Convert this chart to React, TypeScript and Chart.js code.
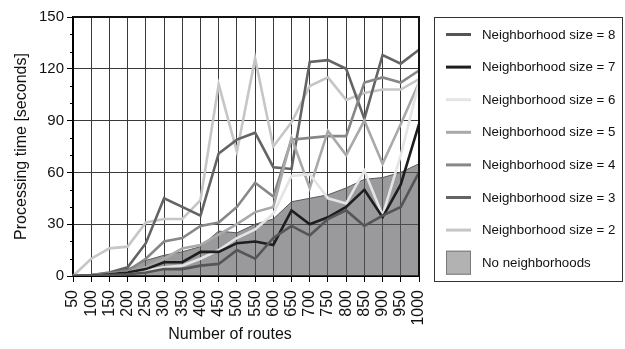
import React, { useEffect, useRef } from "react";
import { Chart, registerables } from "chart.js";

Chart.register(...registerables);

// Number of routes (x categories)
const routeCounts = [
  "50", "100", "150", "200", "250", "300", "350", "400", "450", "500",
  "550", "600", "650", "700", "750", "800", "850", "900", "950", "1000",
];

// Processing time in seconds per neighborhood size
const size8 = [0, 0.2, 0.5, 1, 2, 4, 4, 6, 7, 15, 10, 22, 29, 23.5, 33, 38, 29, 35, 40, 60];
const size7 = [0, 0.3, 1, 2, 4, 8, 8, 14, 14, 19, 20, 18, 38, 30, 34, 40, 50, 34, 53, 88];
const size6 = [0, 0.3, 1, 2, 3, 5, 6, 10, 15, 22, 27, 36, 58, 59, 45, 42, 61, 35, 70, 112];
const size5 = [0, 0.3, 1, 2, 5, 10, 16, 18, 24, 30, 37, 40, 80, 51, 84, 70, 90, 65, 88, 112];
const size4 = [0, 0.5, 1.5, 3, 10, 20, 22, 29, 31, 40, 54, 46, 79, 80, 81, 81, 112, 115, 112, 119];
const size3 = [0, 0.5, 2, 5, 19, 45, 40, 35, 71, 79, 83, 63, 62, 124, 125, 120, 91, 128, 123, 131];
const size2 = [0, 10, 16, 17, 31, 33, 33, 44, 111, 72, 126, 75, 89, 110, 115, 102, 106, 108, 108, 114];
const noNeighborhoods = [0, 0.5, 1.5, 4, 9, 12, 14, 17, 26, 25, 30, 33, 43, 45, 47, 51, 56, 57, 60, 65];

// y axis: labelled every 30 s, small ticks every 10 s
const yMax = 150;
const yMajorStep = 30;
const yMinorStep = 10;

const FONT = "'Liberation Sans', Arial, Helvetica, sans-serif";

const lineSeries = [
  { label: "Neighborhood size = 8", data: size8, color: "#555555" },
  { label: "Neighborhood size = 7", data: size7, color: "#1e1e1e" },
  { label: "Neighborhood size = 6", data: size6, color: "#e4e4e4" },
  { label: "Neighborhood size = 5", data: size5, color: "#a9a9a9" },
  { label: "Neighborhood size = 4", data: size4, color: "#878787" },
  { label: "Neighborhood size = 3", data: size3, color: "#646464" },
  { label: "Neighborhood size = 2", data: size2, color: "#c6c6c6" },
];

const frameAndLegend = {
  id: "frameAndLegend",
  afterDraw(chart: any) {
    const { ctx, chartArea } = chart;
    const { left, right, top, bottom } = chartArea;
    const yScale = chart.scales.y;
    ctx.save();

    // minor ticks on the y axis
    ctx.strokeStyle = "#000";
    ctx.lineWidth = 1;
    for (let v = yMinorStep; v < yMax; v += yMinorStep) {
      if (v % yMajorStep === 0) continue;
      const py = Math.round(yScale.getPixelForValue(v)) + 0.5;
      ctx.beginPath();
      ctx.moveTo(left - 3, py);
      ctx.lineTo(left, py);
      ctx.stroke();
    }

    // top and right frame
    ctx.lineWidth = 2;
    ctx.strokeStyle = "#111";
    ctx.beginPath();
    ctx.moveTo(left, top);
    ctx.lineTo(right, top);
    ctx.lineTo(right, bottom);
    ctx.stroke();

    // axis titles
    ctx.fillStyle = "#111";
    ctx.font = `16px ${FONT}`;
    ctx.textAlign = "center";
    ctx.textBaseline = "middle";
    ctx.fillText("Number of routes", 230, 335);
    ctx.save();
    ctx.translate(22, (top + bottom) / 2);
    ctx.rotate(-Math.PI / 2);
    ctx.fillText("Processing time [seconds]", 0, 0);
    ctx.restore();

    // legend box
    const bx = 434.5;
    const by = 17.5;
    const bw = 188;
    const bh = 264;
    ctx.lineWidth = 1;
    ctx.strokeStyle = "#333";
    ctx.strokeRect(bx, by, bw, bh);

    ctx.font = `13.3px ${FONT}`;
    ctx.textAlign = "left";
    ctx.textBaseline = "middle";
    const rowH = 32.6;
    chart.data.datasets.forEach((ds: any, i: number) => {
      const cy = 34.5 + i * rowH;
      if (ds.fill) {
        ctx.fillStyle = "#b2b2b2";
        ctx.fillRect(446, cy - 12, 25, 24);
        ctx.strokeStyle = "#7a7a7a";
        ctx.lineWidth = 1;
        ctx.strokeRect(446.5, cy - 11.5, 24, 23);
      } else {
        ctx.strokeStyle = ds.borderColor;
        ctx.lineWidth = 3;
        ctx.beginPath();
        ctx.moveTo(446, cy);
        ctx.lineTo(471, cy);
        ctx.stroke();
      }
      ctx.fillStyle = "#111";
      ctx.fillText(ds.label, 482, cy + 0.5);
    });

    ctx.restore();
  },
};

export default function App() {
  const canvasRef = useRef<HTMLCanvasElement | null>(null);

  useEffect(() => {
    const canvas = canvasRef.current;
    if (!canvas) return;

    const datasets: any[] = lineSeries.map((s, i) => ({
      label: s.label,
      data: s.data,
      borderColor: s.color,
      backgroundColor: s.color,
      borderWidth: 2.6,
      pointRadius: 0,
      tension: 0,
      fill: false,
      order: i,
    }));
    datasets.push({
      label: "No neighborhoods",
      data: noNeighborhoods,
      borderColor: "#5a5a5e",
      backgroundColor: "rgba(86, 86, 92, 0.6)",
      borderWidth: 1,
      pointRadius: 0,
      tension: 0,
      fill: "origin",
      order: 20,
    });

    const chart = new Chart(canvas, {
      type: "line",
      data: { labels: routeCounts, datasets },
      options: {
        responsive: false,
        animation: false,
        devicePixelRatio: 1,
        layout: { padding: { left: 0, right: 206, top: 17, bottom: 0 } },
        plugins: {
          legend: { display: false },
          tooltip: { enabled: false },
        },
        scales: {
          x: {
            type: "category",
            offset: false,
            afterFit: (scale: any) => {
              scale.height = 73;
            },
            grid: {
              color: "#3a3a3a",
              lineWidth: 1,
              tickLength: 6,
              tickColor: "#000",
            },
            border: { color: "#000", width: 2 },
            ticks: {
              autoSkip: false,
              maxRotation: 90,
              minRotation: 90,
              padding: 8,
              color: "#111",
              font: { family: FONT, size: 16 },
            },
          },
          y: {
            type: "linear",
            min: 0,
            max: yMax,
            afterFit: (scale: any) => {
              scale.width = 73;
            },
            grid: {
              color: (c: any) =>
                c.tick && c.tick.value % yMajorStep === 0 ? "#3a3a3a" : "rgba(0,0,0,0)",
              tickColor: (c: any) =>
                c.tick && c.tick.value % yMajorStep === 0 ? "#000" : "rgba(0,0,0,0)",
              lineWidth: 1,
              tickLength: 6,
            },
            border: { color: "#000", width: 2 },
            ticks: {
              autoSkip: false,
              stepSize: yMinorStep,
              padding: 3,
              color: "#111",
              font: { family: FONT, size: 15 },
              callback: (v: any) => (Number(v) % yMajorStep === 0 ? String(v) : ""),
            },
          },
        },
      },
      plugins: [frameAndLegend],
    });

    return () => chart.destroy();
  }, []);

  return (
    <div
      style={{
        position: "absolute",
        left: 0,
        top: 0,
        width: 625,
        height: 349,
        background: "#fff",
      }}
    >
      <canvas ref={canvasRef} width={625} height={349} style={{ display: "block" }} />
    </div>
  );
}
